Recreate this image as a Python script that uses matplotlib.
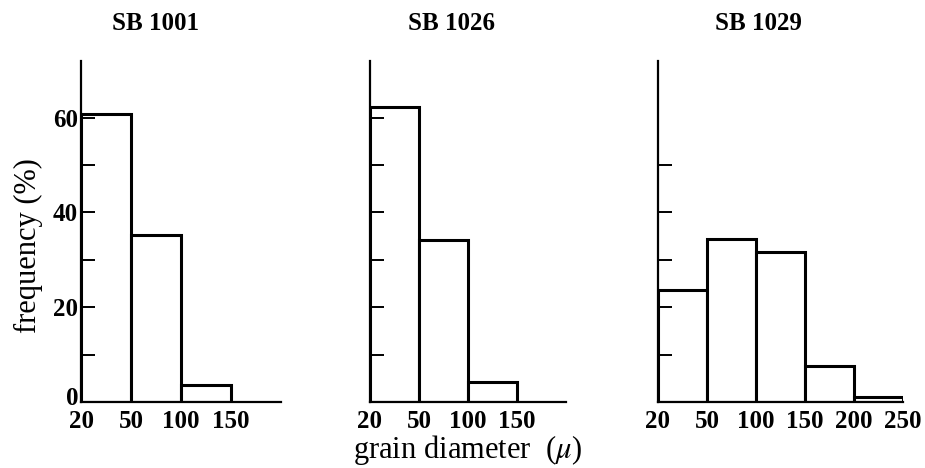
import numpy as np
import matplotlib
matplotlib.use("Agg")
import matplotlib.pyplot as plt
import matplotlib.transforms as mtransforms

plt.rcParams['font.family'] = ['Liberation Serif', 'DejaVu Serif']
plt.rcParams['mathtext.fontset'] = 'stix'

# bin edges (grain diameter, micron) and frequencies (%)
edges = ["20", "50", "100", "150", "200", "250"]
samples = ["SB 1001", "SB 1026", "SB 1029"]
sb1001 = [60.8, 35.2, 3.6]
sb1026 = [62.2, 34.2, 4.2]
sb1029 = [23.6, 34.3, 31.6, 7.5, 1.0]
freqs = [sb1001, sb1026, sb1029]

# per panel: number of bins shown on x axis, labelled edges, y ticks
nbins = [4, 4, 5]
nlabels = [4, 4, 6]
yticks = [[0, 10, 20, 30, 40, 50, 60], [10, 20, 30, 40, 50, 60], [10, 20, 30, 40, 50]]

fig = plt.figure(figsize=(9.25, 4.68), dpi=100)

# axes boxes in pixels: left, right ; title centre x
boxes = [(81, 281), (370, 566), (658, 903)]
title_x = [156, 452, 758]
base = 402
ytop = 402 - 72 * 4.74

for i in range(3):
    l, r = boxes[i]
    ax = fig.add_axes([l / 925, (468 - base) / 468, (r - l) / 925, (base - ytop) / 468])
    f = freqs[i]
    x = np.arange(len(f))
    ax.bar(x, f, width=1.0, align='edge', facecolor='white', edgecolor='black', linewidth=2.2)
    ax.set_xlim(0, nbins[i])
    ax.set_ylim(0, 72)
    for s in ['top', 'right']:
        ax.spines[s].set_visible(False)
    ax.spines['left'].set_linewidth(1.6)
    ax.spines['bottom'].set_linewidth(1.6)
    ax.set_xticks(np.arange(nlabels[i]))
    ax.set_xticklabels(edges[:nlabels[i]], fontsize=18, fontweight='bold')
    off = mtransforms.ScaledTranslation(4 / 100, 0, fig.dpi_scale_trans)
    for lab in ax.get_xticklabels():
        lab.set_transform(lab.get_transform() + off)
    ax.tick_params(axis='x', length=0, pad=6)
    ax.set_yticks(yticks[i])
    ax.tick_params(axis='y', direction='in', length=10, width=1.4)
    if i == 0:
        ax.set_yticklabels([str(v) if v % 20 == 0 else "" for v in yticks[i]], fontsize=18, fontweight='bold')
        ax.tick_params(axis='y', pad=2)
        # lift the "0" a little so it clears the "20" below
        lab0 = ax.get_yticklabels()[0]
        lab0.set_transform(lab0.get_transform() + mtransforms.ScaledTranslation(0, 6 / 100, fig.dpi_scale_trans))
        ax.set_ylabel("frequency (%)", fontsize=22)
        ax.yaxis.set_label_coords(-0.19, 0.457)
    else:
        ax.set_yticklabels([])
    fig.text(title_x[i] / 925, (468 - 24) / 468, samples[i], fontsize=18, fontweight='bold',
             ha='center', va='center')
    if i == 1:
        ax.set_xlabel(r"grain diameter  ($\mu$)", fontsize=22, labelpad=0)

fig.savefig("out.png", dpi=100)
